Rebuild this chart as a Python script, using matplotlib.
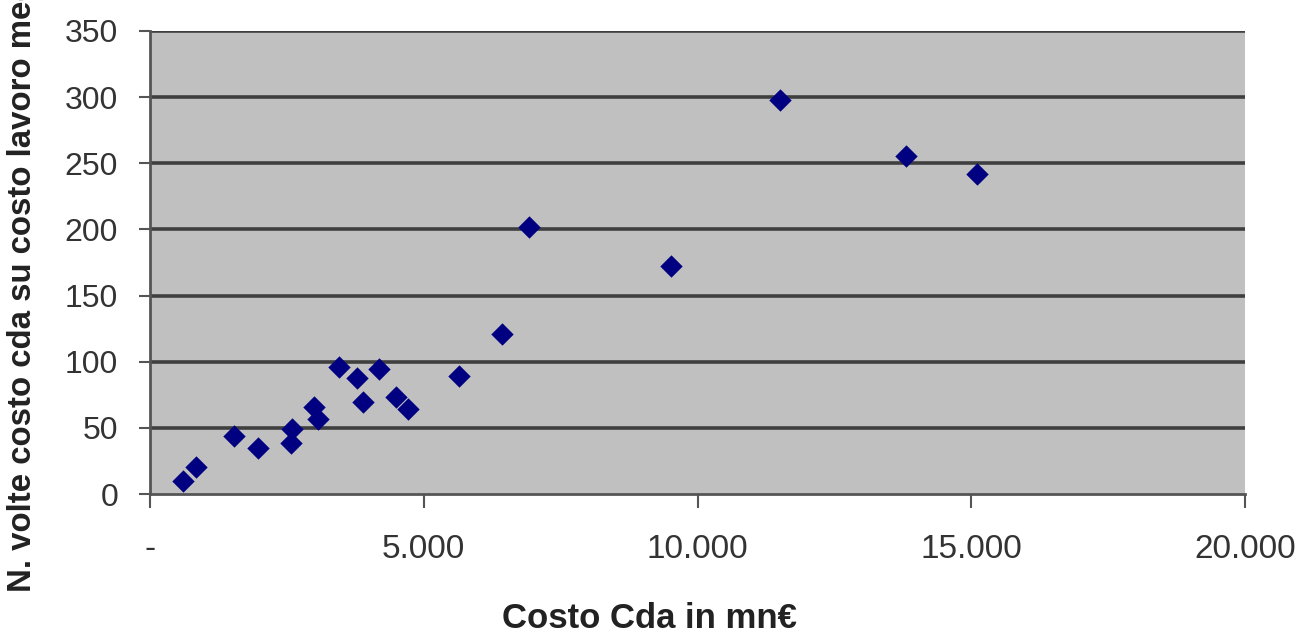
import matplotlib.pyplot as plt
from matplotlib.ticker import FuncFormatter

# costo CdA (mn€) e n. volte costo cda su costo lavoro medio
costo_cda = [598, 841, 1542, 1970, 2592, 2567, 3000, 3061, 3445, 3782, 3891,
             4184, 4495, 4715, 5648, 6434, 6921, 9513, 11513, 13800, 15099]
n_volte = [10, 20.7, 43.9, 35, 49.2, 38.4, 66, 56.8, 96, 87.6, 69.7,
           94.5, 73.3, 64.4, 88.9, 120.8, 201.5, 172.2, 298, 255.5, 242]

x_ticks = [0, 5000, 10000, 15000, 20000]
y_ticks = [0, 50, 100, 150, 200, 250, 300, 350]

plt.rcParams['font.family'] = ['Liberation Sans', 'DejaVu Sans']

fig = plt.figure(figsize=(13.1, 6.37), dpi=100)
ax = fig.add_axes([150 / 1310, 1 - 494 / 637, 1095 / 1310, 463 / 637])
ax.set_facecolor('#c0c0c0')

ax.scatter(costo_cda, n_volte, marker='D', s=130, color='#000080', zorder=3, linewidths=0)

ax.set_xlim(0, 20000)
ax.set_ylim(0, 350)
ax.set_xticks(x_ticks)
ax.set_yticks(y_ticks)


def fmt_x(v, pos):
    if v == 0:
        return '-'
    return f"{int(v):,}".replace(',', '.')


ax.xaxis.set_major_formatter(FuncFormatter(fmt_x))

for y in y_ticks[1:]:
    ax.axhline(y, color='#3f3f3f', linewidth=2.6, zorder=2)

for s in ['top', 'right']:
    ax.spines[s].set_visible(False)
ax.spines['left'].set_color('#555555')
ax.spines['left'].set_linewidth(2)
ax.spines['bottom'].set_color('#555555')
ax.spines['bottom'].set_linewidth(2)

ax.tick_params(axis='x', direction='out', length=10, width=1.5, color='#555555',
               labelsize=24, pad=19, labelcolor='#333333')
ax.tick_params(axis='y', direction='out', length=8, width=1.5, color='#555555',
               labelsize=23, pad=15, labelcolor='#333333')

fig.text(649 / 1310, 1 - 628 / 637, 'Costo Cda in mn€', ha='center', va='baseline',
         fontsize=25, fontweight='bold', color='#222222')
# nel grafico originale l'etichetta esce dal bordo superiore
fig.text(23 / 1310, 1 - 592 / 637, 'N. volte costo cda su costo lavoro medio',
         rotation=90, ha='center', va='bottom', fontsize=23.8, fontweight='bold',
         color='#222222')

fig.savefig('out.png', dpi=100)
